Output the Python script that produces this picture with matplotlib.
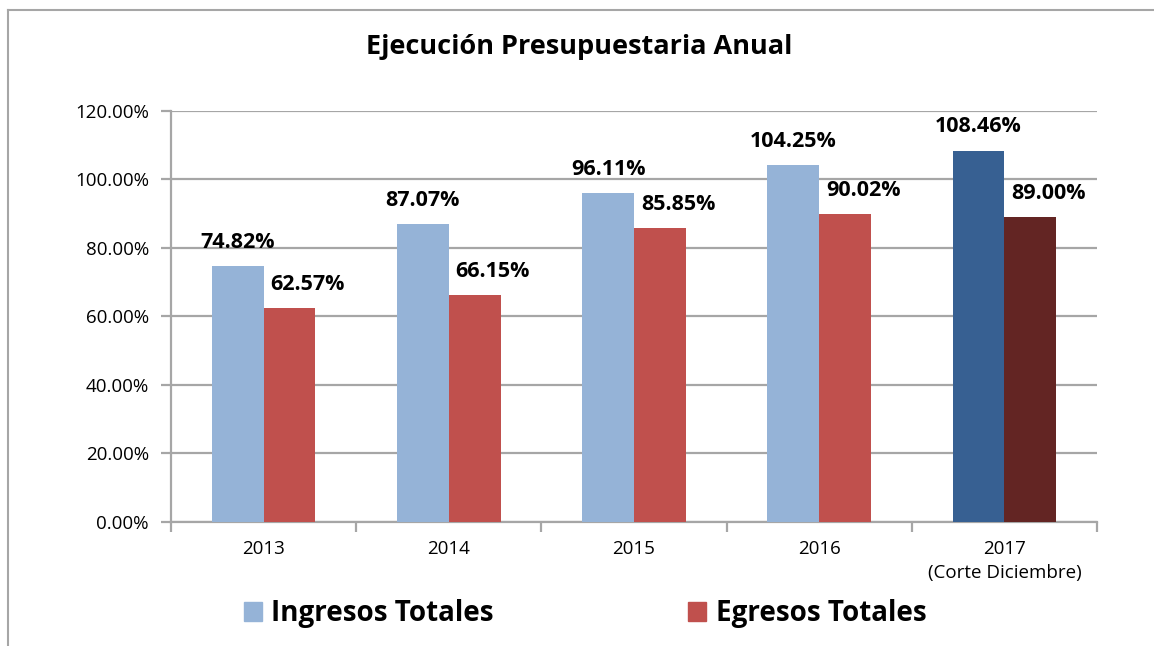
import numpy as np
import matplotlib.pyplot as plt
from matplotlib.lines import Line2D
from matplotlib.patches import Patch

# Data
years = ['2013', '2014', '2015', '2016', '2017\n(Corte Diciembre)']
ingresos = [74.82, 87.07, 96.11, 104.25, 108.46]
egresos = [62.57, 66.15, 85.85, 90.02, 89.00]
yticks = [0, 20, 40, 60, 80, 100, 120]

c_ing = ['#95B3D7'] * 4 + ['#376092']
c_egr = ['#C0504D'] * 4 + ['#632523']
grid_c = '#A6A6A6'

plt.rcParams['font.family'] = ['Open Sans', 'DejaVu Sans']

fig = plt.figure(figsize=(11.54, 6.46), dpi=100)
ax = fig.add_axes([0.1482, 0.1920, 0.8024, 0.6362])

x = np.arange(len(years))
w = 0.28
ax.bar(x - w / 2, ingresos, w, color=c_ing, zorder=3)
ax.bar(x + w / 2, egresos, w, color=c_egr, zorder=3)

# Value labels
for xi, v in zip(x, ingresos):
    ax.annotate(f'{v:.2f}%', (xi - w / 2, v), xytext=(0, 17), textcoords='offset points',
                ha='center', va='center', fontsize=15.5, fontweight='bold')
for xi, v in zip(x, egresos):
    ax.annotate(f'{v:.2f}%', (xi + w / 2, v), xytext=(13, 17), textcoords='offset points',
                ha='center', va='center', fontsize=15.5, fontweight='bold')

ax.set_xlim(-0.5, len(years) - 0.5)
ax.set_ylim(0, 120)
ax.set_yticks(yticks)
ax.set_yticklabels([f'{t:.2f}%' for t in yticks], fontsize=13.5)
ax.yaxis.grid(True, color=grid_c, linewidth=1.6, zorder=0)
ax.set_axisbelow(True)

ax.set_xticks(x)
ax.set_xticklabels(years, fontsize=13.5, linespacing=1.45)
ax.set_xticks(np.arange(-0.5, len(years)), minor=True)
ax.tick_params(axis='x', which='major', length=0, pad=13)
ax.tick_params(axis='x', which='minor', length=7, width=1.6, color=grid_c)
ax.tick_params(axis='y', length=7, width=1.6, color=grid_c, pad=9)

for s in ['top', 'right']:
    ax.spines[s].set_visible(False)
for s in ['left', 'bottom']:
    ax.spines[s].set_color(grid_c)
    ax.spines[s].set_linewidth(1.6)

fig.text(0.502, 0.927, 'Ejecución Presupuestaria Anual', ha='center', va='center',
         fontsize=19.5, fontweight='bold')

handles = [Patch(color=c_ing[0]), Patch(color=c_egr[0])]
fig.legend(handles, ['Ingresos Totales', 'Egresos Totales'], loc='center',
           bbox_to_anchor=(0.507, 0.05), ncol=2, frameon=False,
           prop={'size': 20, 'weight': 'bold'}, handlelength=0.65, handleheight=0.65,
           handletextpad=0.35, columnspacing=7.0)

# Chart frame (top and left edges visible)
fig.add_artist(Line2D([0.0065, 1.0], [0.984, 0.984], color='#A6A6A6', linewidth=1.5,
                      transform=fig.transFigure))
fig.add_artist(Line2D([0.0065, 0.0065], [0.0, 0.984], color='#A6A6A6', linewidth=1.5,
                      transform=fig.transFigure))

fig.savefig('out.png', dpi=100)
